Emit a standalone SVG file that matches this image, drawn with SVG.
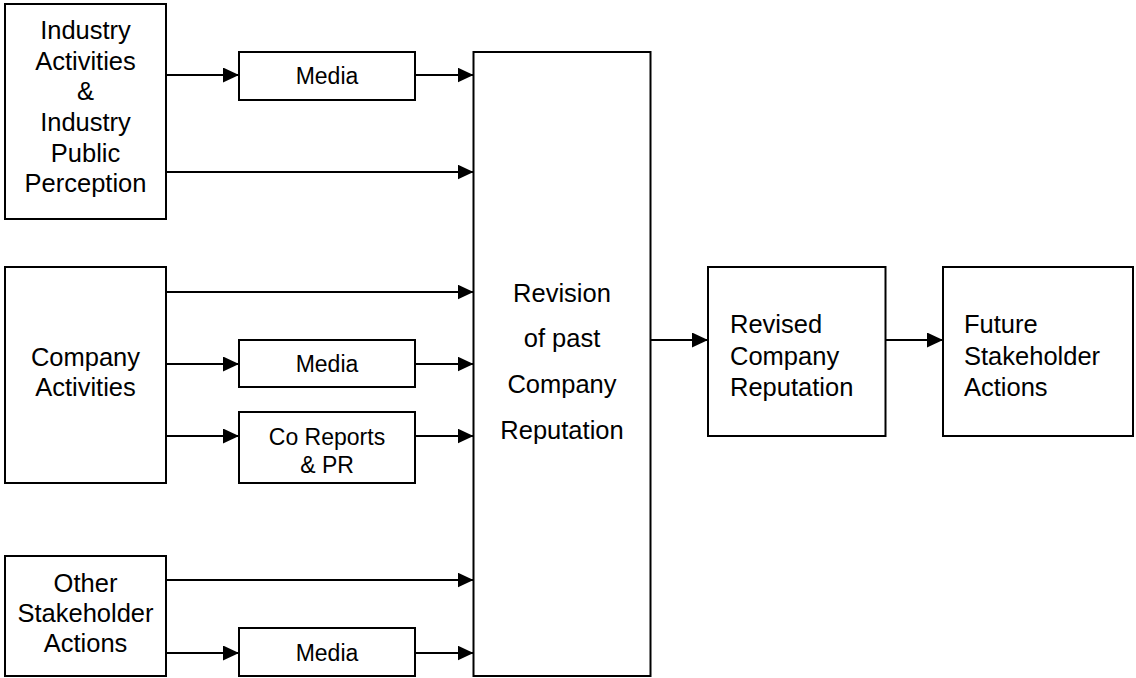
<svg xmlns="http://www.w3.org/2000/svg" width="1136" height="678" viewBox="0 0 1136 678">
<defs>
<style>
.box{fill:#fff;stroke:#000;stroke-width:2}
.t{font-family:"Liberation Sans",Arial,sans-serif;font-size:25.5px;fill:#000}
.s{font-family:"Liberation Sans",Arial,sans-serif;font-size:23px;fill:#000}
.c{text-anchor:middle}
.e{stroke:#000;stroke-width:1.9;fill:none;marker-end:url(#ah)}
</style>
<marker id="ah" markerUnits="userSpaceOnUse" markerWidth="17" markerHeight="16" refX="16" refY="7.5" orient="auto">
<path d="M0,0 L16,7.5 L0,15 Z" fill="#000"/>
</marker>
</defs>
<rect width="1136" height="678" fill="#fff"/>
<g id="connectors">
<line class="e" x1="166" y1="75" x2="239" y2="75"/>
<line class="e" x1="415" y1="75" x2="473.5" y2="75"/>
<line class="e" x1="166" y1="172" x2="473.5" y2="172"/>
<line class="e" x1="166" y1="292" x2="473.5" y2="292"/>
<line class="e" x1="166" y1="364" x2="239" y2="364"/>
<line class="e" x1="415" y1="364" x2="473.5" y2="364"/>
<line class="e" x1="166" y1="436" x2="239" y2="436"/>
<line class="e" x1="415" y1="436" x2="473.5" y2="436"/>
<line class="e" x1="166" y1="580" x2="473.5" y2="580"/>
<line class="e" x1="166" y1="653" x2="239" y2="653"/>
<line class="e" x1="415" y1="653" x2="473.5" y2="653"/>
<line class="e" x1="650.5" y1="340" x2="708" y2="340"/>
<line class="e" x1="885.5" y1="340" x2="943" y2="340"/>
</g>
<g id="industry">
<rect class="box" x="5" y="4" width="161" height="215"/>
<text class="t c" x="85.5" y="39">Industry</text>
<text class="t c" x="85.5" y="70">Activities</text>
<text class="t c" x="85.5" y="100">&amp;</text>
<text class="t c" x="85.5" y="131">Industry</text>
<text class="t c" x="85.5" y="162">Public</text>
<text class="t c" x="85.5" y="192">Perception</text>
</g>
<g id="company">
<rect class="box" x="5" y="267" width="161" height="216"/>
<text class="t c" x="85.5" y="366">Company</text>
<text class="t c" x="85.5" y="396">Activities</text>
</g>
<g id="other">
<rect class="box" x="5" y="556" width="161" height="120"/>
<text class="t c" x="85.5" y="592">Other</text>
<text class="t c" x="85.5" y="622">Stakeholder</text>
<text class="t c" x="85.5" y="652">Actions</text>
</g>
<g id="media1">
<rect class="box" x="239" y="52" width="176" height="48"/>
<text class="s c" x="327" y="84">Media</text>
</g>
<g id="media2">
<rect class="box" x="239" y="340" width="176" height="47"/>
<text class="s c" x="327" y="372">Media</text>
</g>
<g id="coreports">
<rect class="box" x="239" y="412" width="176" height="71"/>
<text class="s c" x="327" y="445">Co Reports</text>
<text class="s c" x="327" y="473">&amp; PR</text>
</g>
<g id="media3">
<rect class="box" x="239" y="628" width="176" height="48"/>
<text class="s c" x="327" y="661">Media</text>
</g>
<g id="revision">
<rect class="box" x="473.5" y="52" width="177" height="624"/>
<text class="t c" x="562" y="302">Revision</text>
<text class="t c" x="562" y="347">of past</text>
<text class="t c" x="562" y="393">Company</text>
<text class="t c" x="562" y="439">Reputation</text>
</g>
<g id="revised">
<rect class="box" x="708" y="267" width="177.5" height="169"/>
<text class="t" x="730" y="333">Revised</text>
<text class="t" x="730" y="364.5">Company</text>
<text class="t" x="730" y="396">Reputation</text>
</g>
<g id="future">
<rect class="box" x="943" y="267" width="190" height="169"/>
<text class="t" x="964" y="333">Future</text>
<text class="t" x="964" y="364.5">Stakeholder</text>
<text class="t" x="964" y="396">Actions</text>
</g>
</svg>
